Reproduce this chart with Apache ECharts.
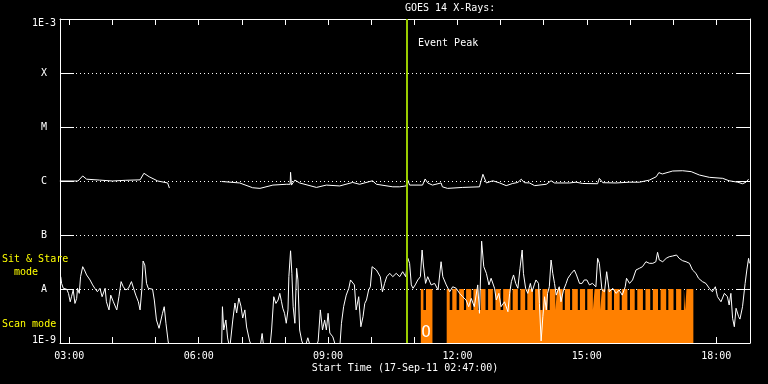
<!DOCTYPE html>
<html><head><meta charset="utf-8">
<script src="https://cdn.jsdelivr.net/npm/echarts@6/dist/echarts.min.js"></script>
<style>html,body{margin:0;padding:0;background:#000}#c{width:768px;height:384px}</style>
</head><body><div id="c"></div>
<script>
// ---- data ----
const titleText = 'GOES 14 X-Rays:';
const xAxisTitle = 'Start Time (17-Sep-11 02:47:00)';
const timeMin = 2 + 47 / 60;           // 02:47
const timeMax = timeMin + 16;          // 18:47
const hourTicks = [3,4,5,6,7,8,9,10,11,12,13,14,15,16,17,18];
const hourLabels = [3,6,9,12,15,18];
const yTickLabels = {'-9':'1E-9','-8':'A','-7':'B','-6':'C','-5':'M','-4':'X','-3':'1E-3'};
const eventPeak = 10.82;               // ~10:49
const below = 8e-10;                   // off-scale (below 1E-9)

// long channel (1-8 A) [hour, W/m2]
const longChannel = [
 [2.78,1.0e-6],[3.20,1.0e-6],[3.31,1.24e-6],[3.40,1.08e-6],[3.70,1.04e-6],[4.00,1.0e-6],[4.30,1.03e-6],
 [4.64,1.05e-6],[4.73,1.39e-6],[4.85,1.2e-6],[5.05,1.0e-6],[5.28,9.2e-7],[5.32,7.4e-7],null,
 [6.53,9.8e-7],[6.95,9.2e-7],[7.25,7.5e-7],[7.42,7.3e-7],[7.72,8.4e-7],[8.03,8.7e-7],[8.12,8.7e-7],
 [8.13,1.45e-6],[8.15,8.4e-7],[8.23,1.04e-6],[8.34,9.2e-7],[8.73,7.6e-7],[8.96,8.4e-7],[9.27,8.1e-7],
 [9.57,9.4e-7],[9.73,8.7e-7],[10.03,1.01e-6],[10.12,8.7e-7],[10.50,7.8e-7],[10.66,7.8e-7],[10.81,8.1e-7],
 [10.84,1.08e-6],[10.89,8.4e-7],[11.19,8.4e-7],[11.25,1.09e-6],[11.31,9.2e-7],[11.42,8.4e-7],[11.62,9.2e-7],
 [11.65,7.8e-7],[11.77,7.3e-7],[12.12,7.6e-7],[12.51,7.8e-7],[12.59,1.33e-6],[12.67,9.2e-7],[12.82,1.01e-6],
 [12.98,9.2e-7],[13.13,8.2e-7],[13.28,9.0e-7],[13.40,9.4e-7],[13.48,1.08e-6],[13.55,9.3e-7],[13.67,9.2e-7],
 [13.79,8.2e-7],[14.06,8.7e-7],[14.17,1.01e-6],[14.25,9.2e-7],[14.60,9.2e-7],[14.75,9.5e-7],[14.90,9.0e-7],
 [15.25,8.9e-7],[15.29,1.12e-6],[15.37,9.3e-7],[15.68,9.2e-7],[15.99,9.5e-7],[16.22,9.5e-7],[16.45,1.04e-6],
 [16.61,1.2e-6],[16.67,1.43e-6],[16.75,1.35e-6],[16.99,1.53e-6],[17.22,1.55e-6],[17.42,1.49e-6],[17.61,1.29e-6],
 [17.84,1.17e-6],[18.15,1.12e-6],[18.30,1.01e-6],[18.50,9.5e-7],[18.61,8.9e-7],[18.69,9.5e-7],[18.75,1.08e-6]
];

// short channel (0.5-4 A) [hour, W/m2]
const shortChannel = [
 [2.80,1.69e-8],[2.82,1.27e-8],[2.86,1.03e-8],[2.90,9.6e-9],[2.94,9.9e-9],[2.98,8.3e-9],[3.02,5.8e-9],
 [3.05,7.2e-9],[3.09,9.6e-9],[3.13,5.4e-9],[3.17,6.7e-9],[3.19,1.03e-8],[3.23,8.3e-9],[3.26,1.69e-8],
 [3.31,2.59e-8],[3.35,2.25e-8],[3.40,1.82e-8],[3.48,1.47e-8],[3.54,1.19e-8],[3.59,1.03e-8],[3.65,8.9e-9],
 [3.71,1.03e-8],[3.76,7.2e-9],[3.83,1.03e-8],[3.86,5.8e-9],[3.92,4.1e-9],[3.96,7.7e-9],[4.02,5.8e-9],
 [4.10,4.1e-9],[4.15,7.2e-9],[4.20,1.37e-8],[4.25,1.1e-8],[4.31,9.6e-9],[4.37,1.03e-8],[4.44,1.37e-8],
 [4.48,1.47e-8],[4.54,7.7e-9],[4.60,5.8e-9],[4.64,4.1e-9],[4.68,9.6e-9],[4.71,3.3e-8],[4.75,2.78e-8],
 [4.79,1.27e-8],[4.83,1.03e-8],[4.87,9.6e-9],[4.93,9.9e-9],[4.97,6.25e-9],[5.02,2.67e-9],[5.08,1.87e-9],
 [5.12,1.74e-9],[5.16,3.55e-9],[5.20,4.7e-9],[5.24,2.32e-9],[5.29,1.09e-9],[5.32,below],null,
 [6.53,below],[6.55,4.7e-9],[6.58,1.74e-9],[6.63,2.67e-9],[6.67,1.24e-9],[6.72,below],[6.79,2.67e-9],
 [6.84,5.5e-9],[6.88,3.6e-9],[6.93,6.8e-9],[6.98,4.8e-9],[7.02,2.9e-9],[7.07,4.1e-9],[7.11,1.98e-9],
 [7.18,1.09e-9],[7.25,below],[7.35,1.0e-9],[7.42,below],[7.47,1.5e-9],[7.51,below],[7.65,below],
 [7.69,1.74e-9],[7.74,7.2e-9],[7.79,5.4e-9],[7.84,6.25e-9],[7.88,8.3e-9],[7.92,5.8e-9],[7.95,4.4e-9],
 [7.99,3.55e-9],[8.03,2.32e-9],[8.07,4.1e-9],[8.09,1.69e-8],[8.13,5.1e-8],[8.16,1.95e-8],[8.19,4.7e-9],
 [8.23,2.32e-9],[8.27,2.42e-8],[8.30,1.47e-8],[8.34,1.74e-9],[8.39,1.09e-9],[8.46,below],[8.53,1.25e-9],
 [8.60,below],[8.71,below],[8.77,1.09e-9],[8.82,4.1e-9],[8.87,1.74e-9],[8.92,2.67e-9],[8.96,1.74e-9],
 [9.00,3.55e-9],[9.04,1.53e-9],[9.11,1.3e-9],[9.19,below],[9.27,below],[9.31,2.32e-9],[9.36,4.7e-9],
 [9.42,7.7e-9],[9.48,1.03e-8],[9.52,1.47e-8],[9.56,1.58e-8],[9.61,1.19e-8],[9.65,4.1e-9],[9.71,7.2e-9],
 [9.76,2.0e-9],[9.81,3.07e-9],[9.85,5.4e-9],[9.89,6.25e-9],[9.94,9.6e-9],[9.98,1.1e-8],[10.02,2.59e-8],
 [10.06,2.78e-8],[10.12,2.25e-8],[10.16,2.42e-8],[10.21,1.69e-8],[10.26,8.9e-9],[10.31,1.27e-8],
 [10.36,1.69e-8],[10.43,1.95e-8],[10.50,1.69e-8],[10.58,1.95e-8],[10.66,1.69e-8],[10.73,2.09e-8],
 [10.80,1.69e-8],[10.85,3.7e-8],[10.89,2.99e-8],[10.93,1.19e-8],[10.97,1.03e-8],[11.02,1.19e-8],
 [11.08,1.47e-8],[11.14,1.69e-8],[11.18,5.27e-8],[11.21,2.78e-8],[11.26,1.27e-8],[11.31,1.69e-8],
 [11.39,1.19e-8],[11.47,1.27e-8],[11.55,9.6e-9],[11.62,3.2e-8],[11.66,1.69e-8],[11.74,1.19e-8],
 [11.82,8.9e-9],[11.89,1.1e-8],[11.97,1.03e-8],[12.05,8.3e-9],[12.12,7.2e-9],[12.20,6.25e-9],
 [12.26,4.7e-9],[12.32,6.7e-9],[12.39,4.7e-9],[12.47,1.19e-8],[12.51,3.55e-9],[12.56,7.7e-8],
 [12.61,2.59e-8],[12.67,1.95e-8],[12.73,1.19e-8],[12.78,1.58e-8],[12.86,1.03e-8],[12.90,6.25e-9],
 [12.96,8.3e-9],[13.01,4.7e-9],[13.09,5.8e-9],[13.17,3.8e-9],[13.21,8.3e-9],[13.25,1.37e-8],
 [13.30,1.82e-8],[13.35,1.27e-8],[13.40,1.03e-8],[13.45,2.42e-8],[13.50,5.27e-8],[13.53,1.95e-8],
 [13.58,1.03e-8],[13.63,8.3e-9],[13.69,1.27e-8],[13.73,8.9e-9],[13.78,1.19e-8],[13.82,1.47e-8],
 [13.88,1.27e-8],[13.90,5.4e-9],[13.94,1.09e-9],[13.98,3.07e-9],[14.02,7.2e-9],[14.06,4.1e-9],
 [14.09,8.3e-9],[14.13,1.1e-8],[14.17,3.44e-8],[14.21,1.95e-8],[14.25,1.27e-8],[14.29,7.7e-9],
 [14.32,7.2e-9],[14.36,1.1e-8],[14.40,5.8e-9],[14.46,9.6e-9],[14.52,1.27e-8],[14.56,1.58e-8],
 [14.64,1.95e-8],[14.71,2.25e-8],[14.76,1.82e-8],[14.83,1.27e-8],[14.89,1.27e-8],[14.94,1.47e-8],
 [15.00,1.47e-8],[15.06,1.19e-8],[15.13,1.27e-8],[15.21,1.1e-8],[15.25,3.7e-8],[15.29,2.99e-8],
 [15.35,9.6e-9],[15.41,8.9e-9],[15.46,2.09e-8],[15.52,8.9e-9],[15.60,1.03e-8],[15.68,8.3e-9],
 [15.75,9.6e-9],[15.82,7.7e-9],[15.89,1.1e-8],[15.92,1.58e-8],[15.99,1.27e-8],[16.06,1.47e-8],
 [16.14,2.25e-8],[16.22,2.42e-8],[16.29,2.59e-8],[16.37,3.2e-8],[16.45,2.99e-8],[16.53,2.99e-8],
 [16.60,3.2e-8],[16.64,4.78e-8],[16.68,3.44e-8],[16.76,3.2e-8],[16.84,3.7e-8],[16.91,3.96e-8],
 [16.99,4.08e-8],[17.08,4.26e-8],[17.14,3.7e-8],[17.22,3.34e-8],[17.30,3.2e-8],[17.38,2.99e-8],
 [17.45,2.25e-8],[17.53,1.95e-8],[17.59,1.58e-8],[17.68,1.37e-8],[17.76,1.27e-8],[17.84,1.03e-8],
 [17.91,8.9e-9],[17.98,1.1e-8],[18.03,7.2e-9],[18.11,5.8e-9],[18.19,8.3e-9],[18.26,7.2e-9],
 [18.30,5.05e-9],[18.34,8.3e-9],[18.38,2.87e-9],[18.42,2.0e-9],[18.46,4.4e-9],[18.52,3.07e-9],
 [18.55,2.77e-9],[18.61,4.7e-9],[18.67,1.27e-8],[18.71,2.25e-8],[18.75,3.7e-8],[18.77,2.99e-8]
];

// scan mode blocks [start, end] in hours, and notches inside them
const scanLevel = 1e-8, notchLevel = 4.1e-9, offLevel = 1e-10;
const scanBlocks = [[11.15, 11.42], [11.75, 17.47]];
const scanNotches = [
 [11.21,11.27],
 [11.82,11.88],[11.98,12.04],[12.15,12.20],[12.32,12.37],[12.48,12.54],[12.65,12.71],[12.82,12.88],
 [13.00,13.06],[13.23,13.28],[13.40,13.46],[13.57,13.62],[13.75,13.80],[13.92,13.97],[14.09,14.14],
 [14.27,14.31],[14.44,14.49],[14.61,14.66],[14.79,14.84],[14.96,15.01],[15.14,15.18],[15.31,15.35],
 [15.43,15.48],[15.58,15.63],[15.76,15.81],[15.94,16.00],[16.11,16.17],[16.30,16.36],[16.47,16.53],
 [16.65,16.71],[16.84,16.89],[17.01,17.07],[17.19,17.25],[17.28,17.31]
];

// ---- build scan-mode step data ----
const scanData = [[timeMin, offLevel]];
scanBlocks.forEach(function (b) {
  scanData.push([b[0], scanLevel]);
  scanNotches.forEach(function (n) {
    if (n[0] >= b[0] && n[1] <= b[1]) { scanData.push([n[0], notchLevel]); scanData.push([n[1], scanLevel]); }
  });
  scanData.push([b[1], offLevel]);
});
scanData.push([timeMax, offLevel]);

const font = 'DejaVu Sans Mono';
const hh = v => (v < 10 ? '0' : '') + Math.round(v) + ':00';

const chart = echarts.init(document.getElementById('c'), null, {renderer: 'canvas'});
chart.setOption({
  backgroundColor: '#000',
  animation: false,
  grid: {left: 60, right: 18, top: 19, bottom: 41, containLabel: false, outerBoundsMode: 'none'},
  xAxis: [{
    type: 'value', min: timeMin, max: timeMax, position: 'bottom',
    axisLine: {show: true, onZero: false, lineStyle: {color: '#fff', width: 1}},
    axisTick: {show: true, inside: true, length: 6, customValues: hourTicks, lineStyle: {color: '#fff'}},
    axisLabel: {show: true, customValues: hourLabels, formatter: hh, color: '#fff', fontFamily: font, fontSize: 10, margin: 8},
    splitLine: {show: false}
  }, {
    type: 'value', min: timeMin, max: timeMax, position: 'top',
    axisLine: {show: true, onZero: false, lineStyle: {color: '#fff', width: 1}},
    axisTick: {show: true, inside: true, length: 6, customValues: hourTicks, lineStyle: {color: '#fff'}},
    axisLabel: {show: false}, splitLine: {show: false}
  }],
  yAxis: [{
    type: 'log', logBase: 10, min: 1e-9, max: 1e-3, interval: 1, position: 'left',
    axisLine: {show: true, lineStyle: {color: '#fff', width: 1}},
    axisTick: {show: true, inside: true, length: 14, lineStyle: {color: '#fff'}},
    minorTick: {show: false},
    axisLabel: {
      color: '#fff', fontFamily: font, fontSize: 10, align: 'center', margin: 16,
      formatter: function (v) {
        const e = String(Math.round(Math.log10(v)));
        if (e === '-3') return '{t|' + yTickLabels[e] + '}';
        if (e === '-9') return '{b|' + yTickLabels[e] + '}';
        return yTickLabels[e] || '';
      },
      rich: {
        t: {color: '#fff', fontFamily: font, fontSize: 10, padding: [8, 0, 0, 0]},
        b: {color: '#fff', fontFamily: font, fontSize: 10, padding: [0, 0, 6, 0]}
      }
    },
    splitLine: {show: true, lineStyle: {color: '#fff', type: [1, 3], width: 1}}
  }, {
    type: 'log', logBase: 10, min: 1e-9, max: 1e-3, interval: 1, position: 'right',
    axisLine: {show: true, lineStyle: {color: '#fff', width: 1}},
    axisTick: {show: true, inside: true, length: 14, lineStyle: {color: '#fff'}},
    axisLabel: {show: false}, splitLine: {show: false}
  }],
  series: [{
    name: 'Scan mode', type: 'line', step: 'end', data: scanData, showSymbol: false, symbol: 'none',
    lineStyle: {width: 0}, areaStyle: {color: '#ff8000', opacity: 1, origin: 'start'}, z: 1, clip: true
  }, {
    name: 'Long', type: 'line', data: longChannel, showSymbol: false, symbol: 'none', connectNulls: false,
    lineStyle: {color: '#fff', width: 1}, z: 3, clip: true
  }, {
    name: 'Short', type: 'line', data: shortChannel, showSymbol: false, symbol: 'none', connectNulls: false,
    lineStyle: {color: '#fff', width: 1}, z: 3, clip: true,
    markLine: {
      silent: true, symbol: 'none', z: 5, animation: false,
      label: {show: false},
      lineStyle: {color: '#9acd00', width: 2, type: 'solid'},
      data: [{xAxis: eventPeak}]
    }
  }],
  graphic: [
    {type: 'text', left: 405, top: 3, z: 100, style: {text: titleText, fill: '#fff', font: '10px "' + font + '"', textAlign: 'center'}},
    {type: 'text', x: 405, y: 363, z: 100, style: {text: xAxisTitle, fill: '#fff', font: '10px "' + font + '"', textAlign: 'center'}},
    {type: 'text', x: 418, y: 38, z: 100, style: {text: 'Event Peak', fill: '#fff', font: '10px "' + font + '"'}},
    {type: 'text', x: 2, y: 253, z: 100, style: {text: 'Sit & Stare\n  mode', fill: '#ffff00', font: '10px "' + font + '"', lineHeight: 13}},
    {type: 'text', x: 2, y: 319, z: 100, style: {text: 'Scan mode', fill: '#ffff00', font: '10px "' + font + '"'}},
    {type: 'text', x: 426, y: 333, z: 100, zlevel: 1, style: {text: 'O', fill: '#fff', font: '16px "DejaVu Sans Mono"', textAlign: 'center', textVerticalAlign: 'middle'}}
  ]
});
</script>
</body></html>
